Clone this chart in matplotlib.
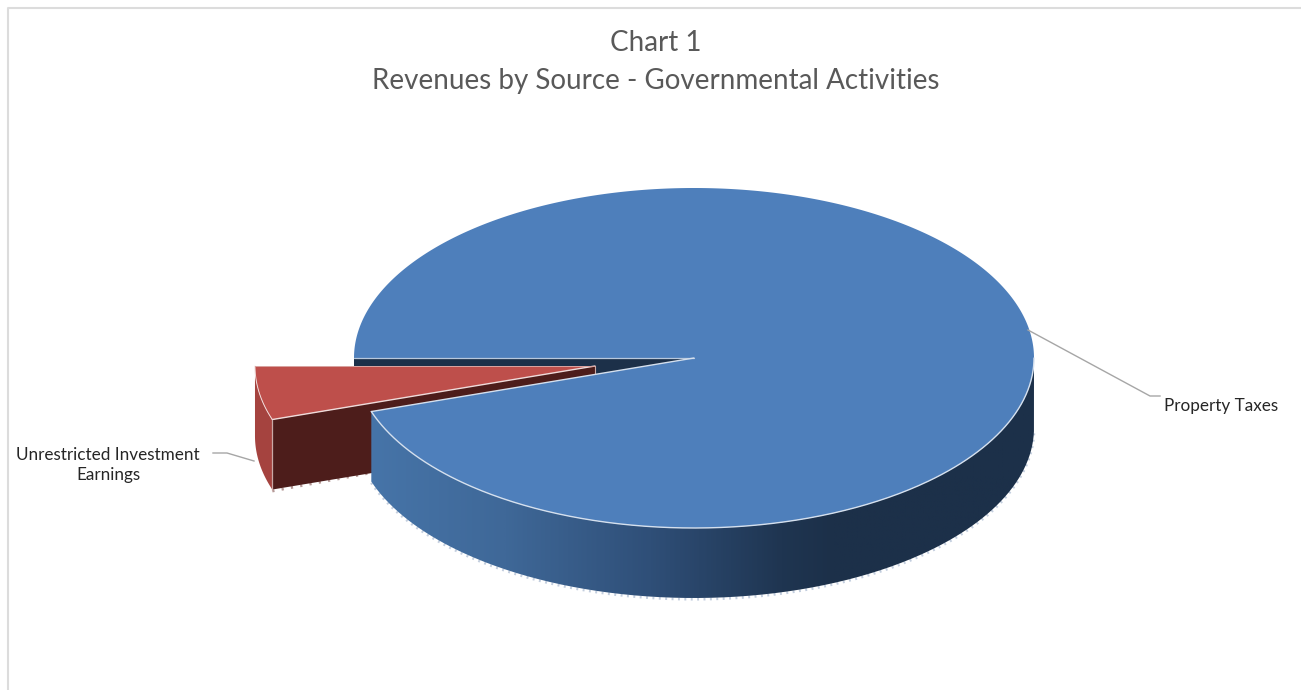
"""Exploded 3D pie of governmental revenues by source."""

import matplotlib
matplotlib.use("Agg")
import matplotlib.pyplot as plt
import numpy as np
from matplotlib.colors import LinearSegmentedColormap
from matplotlib.patches import PathPatch
from matplotlib.path import Path

# ---- Data -----------------------------------------------------------------
TITLE_LINES = ["Chart 1", "Revenues by Source - Governmental Activities"]
SOURCES = ["Property Taxes", "Unrestricted Investment\nEarnings"]
SHARES = [94.9, 5.1]
EXPLODE = [0.0, 0.295]

# ---- Geometry (canvas pixels, y down) -------------------------------------
W, H = 1301, 690
CX, CY = 694, 358
RX, RY = 340, 170
DEPTH = 70
START = 180.0

BLUE_TOP, BLUE_EDGE = "#4e7fbb", "#d5e0ee"
NAVY = "#1c3049"
RED_TOP, RED_WALL, MAROON = "#be4f4b", "#a5433f", "#4d1d1b"
RED_EDGE = "#f0dcdb"
LEADER = "#a6a6a6"

plt.rcParams["font.family"] = ["Lato", "DejaVu Sans"]

fig = plt.figure(figsize=(W / 100, H / 100), dpi=100)
ax = fig.add_axes([0, 0, 1, 1])
ax.set_xlim(0, W)
ax.set_ylim(H, 0)
ax.axis("off")


def arc(cx, cy, a0, a1, n=240, drop=0.0):
    t = np.radians(np.linspace(a0, a1, n))
    return np.column_stack([cx + RX * np.cos(t), cy - RY * np.sin(t) + drop])


def fill(points, color, z):
    ax.fill(points[:, 0], points[:, 1], color=color, lw=0, zorder=z)


def polyline(points, color, lw, z, **kw):
    ax.plot(points[:, 0], points[:, 1], color=color, lw=lw, zorder=z,
            solid_capstyle="round", **kw)


# Outer frame: only the left and top rules fall inside the canvas
ax.plot([8, 8, W], [H, 7.5, 7.5], color="#dcdcdc", lw=1.5, zorder=1)

# Slice angles run clockwise on screen from the 9 o'clock position
sweep = [s / sum(SHARES) * 360 for s in SHARES]
blue_a0, blue_a1 = START, START - sweep[0]
red_a0, red_a1 = START + sweep[1], START

# Offset of the exploded slice along its bisector
mid = np.radians(START + sweep[1] / 2)
rcx = CX + EXPLODE[1] * RX * np.cos(mid)
rcy = CY - EXPLODE[1] * RY * np.sin(mid)

# ---- Cut face of the large slice, seen through the gap --------------------
back = np.array([[CX - RX, CY], [CX, CY], [CX, CY + DEPTH], [CX - RX, CY + DEPTH]])
fill(back, NAVY, 2)

# ---- Exploded slice -------------------------------------------------------
red_arc = arc(rcx, rcy, red_a0, red_a1, 40)
red_arc_low = arc(rcx, rcy, red_a0, red_a1, 40, DEPTH)
fill(np.vstack([red_arc, red_arc_low[::-1]]), RED_WALL, 3)

apex = np.array([[rcx, rcy]])
corner = red_arc[0:1]
face = np.vstack([apex, corner, corner + [0, DEPTH], apex + [0, DEPTH]])
fill(face, MAROON, 4)
polyline(np.vstack([corner, corner + [0, DEPTH]]), "#c9a9a6", 0.9, 4.5)
polyline(np.vstack([apex, apex + [0, 10]]), "#c9a9a6", 0.8, 4.5)
polyline(np.vstack([corner + [0, DEPTH + 1.5], apex + [-225, DEPTH + 37]]),
         "#b59a98", 2.0, 3.5, linestyle=(0, (0.8, 2.6)))

fill(np.vstack([apex, red_arc]), RED_TOP, 5)
polyline(np.vstack([apex, corner]), RED_EDGE, 1.0, 6)
polyline(red_arc, RED_EDGE, 0.7, 6)
polyline(np.array([[rcx, rcy], [rcx - RX, rcy]]), "#d9a5a2", 0.7, 6)

# ---- Side wall of the large slice with its horizontal shading -------------
wall_top = arc(CX, CY, blue_a1, -360 + 360, 300)
wall_low = arc(CX, CY, blue_a1, 0, 300, DEPTH)
wall_pts = np.vstack([wall_top, wall_low[::-1]])
shade = LinearSegmentedColormap.from_list("wall", [
    (0.00, "#4674a8"), (0.20, "#3f6898"), (0.42, "#2f4f78"),
    (0.62, "#1f3551"), (0.70, NAVY), (1.00, NAVY),
])
x0, x1 = wall_pts[:, 0].min(), wall_pts[:, 0].max()
y0, y1 = wall_pts[:, 1].min(), wall_pts[:, 1].max()
img = ax.imshow(np.linspace(0, 1, 400)[None, :], cmap=shade, vmin=0, vmax=1,
                extent=[x0, x1, y1, y0], aspect="auto", zorder=7)
clip = PathPatch(Path(np.vstack([wall_pts, wall_pts[:1]])), transform=ax.transData,
                 fc="none", ec="none")
ax.add_patch(clip)
img.set_clip_path(clip)
ax.set_xlim(0, W)
ax.set_ylim(H, 0)

# Rough fringe along the lower rim of the wall
polyline(wall_low + [0, 1.2], "#c3cede", 2.0, 6.5, linestyle=(0, (0.7, 1.6)))

# ---- Top of the large slice -----------------------------------------------
blue_arc = arc(CX, CY, blue_a0, blue_a1, 600)
fill(np.vstack([[[CX, CY]], blue_arc]), BLUE_TOP, 8)
polyline(np.array([[CX - RX, CY], [CX, CY]]), "#b8c8dc", 0.9, 9)
polyline(np.vstack([[[CX, CY]], blue_arc[-1:]]), BLUE_EDGE, 1.0, 9)
polyline(arc(CX, CY, blue_a1, 0, 300), BLUE_EDGE, 1.0, 9)

# ---- Leader lines and labels ----------------------------------------------
ax.plot([1028, 1150, 1160], [330, 396, 396], color=LEADER, lw=1.0, zorder=10)
ax.plot([213, 227, 254], [453, 453, 461], color=LEADER, lw=1.0, zorder=2.5)
ax.text(1164, 406, SOURCES[0], fontsize=12.3, color="#262626", ha="left", va="center")
ax.text(108, 465, SOURCES[1], fontsize=12.3, color="#262626", ha="center", va="center",
        linespacing=1.35)

# ---- Title ----------------------------------------------------------------
ax.text(656, 43, TITLE_LINES[0], fontsize=20, color="#595959", ha="center", va="center")
ax.text(656, 81, TITLE_LINES[1], fontsize=20, color="#595959", ha="center", va="center")

fig.savefig("out.png", dpi=100, facecolor="white")
plt.close(fig)
